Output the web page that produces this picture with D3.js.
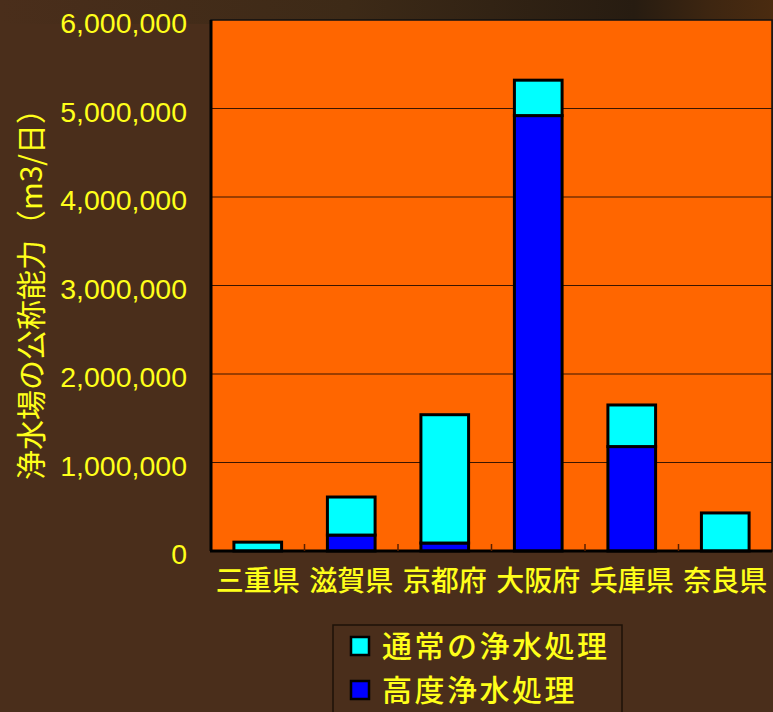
<!DOCTYPE html>
<html>
<head>
<meta charset="utf-8">
<script src="https://cdn.jsdelivr.net/npm/d3@7"></script>
<style>
  html, body { margin: 0; padding: 0; background: #4a2e1b; }
  svg { display: block; }
</style>
</head>
<body>
<div id="chart"></div>
<script>
// data
const prefectures = ["三重県", "滋賀県", "京都府", "大阪府", "兵庫県", "奈良県"];
const advancedTreatment = [0, 180000, 90000, 4920000, 1180000, 0];      // 高度浄水処理
const normalTreatment = [100000, 430000, 1450000, 400000, 470000, 430000]; // 通常の浄水処理
const yTicks = [0, 1000000, 2000000, 3000000, 4000000, 5000000, 6000000];
const seriesNames = ["通常の浄水処理", "高度浄水処理"];

const width = 773, height = 712;
const plot = { left: 211, top: 20, right: 772, bottom: 551 };
const yellow = "#ffff1a";
const jp = "'Noto Sans CJK JP', 'Noto Sans', sans-serif";

const svg = d3.select("#chart").append("svg")
  .attr("width", width)
  .attr("height", height);

// background
svg.append("rect").attr("width", width).attr("height", height).attr("fill", "#4a2e1b");
const defs = svg.append("defs");
const grad = defs.append("linearGradient").attr("id", "topShade").attr("x1", 0).attr("x2", 1);
grad.append("stop").attr("offset", "0%").attr("stop-color", "#4a2e1b");
grad.append("stop").attr("offset", "45%").attr("stop-color", "#3d2a17");
grad.append("stop").attr("offset", "82%").attr("stop-color", "#271c11");
grad.append("stop").attr("offset", "92%").attr("stop-color", "#3e2611");
grad.append("stop").attr("offset", "100%").attr("stop-color", "#4a2b10");
svg.append("rect").attr("x", 0).attr("y", 0).attr("width", width).attr("height", plot.top + 4)
  .attr("fill", "url(#topShade)");

const table = prefectures.map((p, i) => ({ name: p, advanced: advancedTreatment[i], normal: normalTreatment[i] }));
const stacked = d3.stack().keys(["advanced", "normal"])(table);
const colors = { advanced: "#0000ff", normal: "#00ffff" };

const x = d3.scaleBand().domain(prefectures).range([plot.left, plot.right]).paddingInner(0.49).paddingOuter(0.245);
const band = d3.scaleBand().domain(prefectures).range([plot.left, plot.right]);
const y = d3.scaleLinear().domain([0, 6000000]).range([plot.bottom, plot.top]);

// plot area
svg.append("rect")
  .attr("x", plot.left).attr("y", plot.top)
  .attr("width", plot.right - plot.left).attr("height", plot.bottom - plot.top)
  .attr("fill", "#ff6600");

// grid lines
svg.append("g")
  .selectAll("line")
  .data(yTicks.slice(1, -1))
  .join("line")
  .attr("x1", plot.left).attr("x2", plot.right)
  .attr("y1", d => y(d)).attr("y2", d => y(d))
  .attr("stroke", "#3a1500").attr("stroke-width", 1.2);

// bars
svg.append("g")
  .selectAll("g")
  .data(stacked)
  .join("g")
  .attr("fill", d => colors[d.key])
  .selectAll("rect")
  .data(d => d.filter(s => s[1] - s[0] > 0))
  .join("rect")
  .attr("x", d => x(d.data.name))
  .attr("y", d => y(d[1]))
  .attr("width", x.bandwidth())
  .attr("height", d => y(d[0]) - y(d[1]))
  .attr("stroke", "#000")
  .attr("stroke-width", 3);

// frame
svg.append("rect")
  .attr("x", plot.left).attr("y", plot.top)
  .attr("width", plot.right - plot.left).attr("height", plot.bottom - plot.top)
  .attr("fill", "none").attr("stroke", "#111").attr("stroke-width", 1.5);
svg.append("line")
  .attr("x1", plot.left - 1).attr("x2", plot.right)
  .attr("y1", plot.bottom).attr("y2", plot.bottom)
  .attr("stroke", "#000").attr("stroke-width", 3);
svg.append("line")
  .attr("x1", plot.left).attr("x2", plot.left)
  .attr("y1", plot.top).attr("y2", plot.bottom)
  .attr("stroke", "#000").attr("stroke-width", 3);

// category tick marks (inward)
svg.append("g")
  .selectAll("line")
  .data(prefectures.slice(1))
  .join("line")
  .attr("x1", d => band(d)).attr("x2", d => band(d))
  .attr("y1", plot.bottom).attr("y2", plot.bottom - 7)
  .attr("stroke", "#5a2000").attr("stroke-width", 1.5);

// y axis labels
const yAxis = svg.append("g")
  .attr("transform", `translate(${plot.left},0)`)
  .call(d3.axisLeft(y).tickValues(yTicks).tickFormat(d3.format(",")).tickSize(0).tickPadding(24));
yAxis.select(".domain").remove();
yAxis.selectAll("text")
  .attr("fill", yellow)
  .attr("dy", "0.45em")
  .style("font-family", "'Liberation Sans', Arial, sans-serif")
  .style("font-size", "28.5px");

// x axis labels
const xAxis = svg.append("g")
  .attr("transform", `translate(0,${plot.bottom})`)
  .call(d3.axisBottom(band).tickSize(0).tickPadding(26));
xAxis.select(".domain").remove();
xAxis.selectAll("text")
  .attr("fill", yellow)
  .attr("dy", "0.5em")
  .style("font-family", jp)
  .style("font-size", "28px")
  .style("font-weight", "500");

// y axis title
svg.append("text")
  .attr("transform", "translate(42,287) rotate(-90)")
  .attr("text-anchor", "middle")
  .attr("fill", yellow)
  .style("font-family", jp)
  .style("font-size", "30px")
  .text("浄水場の公称能力（m3/日）");

// legend
const legend = svg.append("g");
legend.append("rect")
  .attr("x", 333).attr("y", 625)
  .attr("width", 289).attr("height", 100)
  .attr("fill", "#4a2e1b")
  .attr("stroke", "#1e1208").attr("stroke-width", 1.5);
const legendRows = [
  { name: seriesNames[0], color: colors.normal },
  { name: seriesNames[1], color: colors.advanced }
];
const rowY = d3.scalePoint().domain(seriesNames).range([646, 690]);
legend.selectAll("rect.sw")
  .data(legendRows)
  .join("rect")
  .attr("class", "sw")
  .attr("x", 351).attr("y", d => rowY(d.name) - 9)
  .attr("width", 18).attr("height", 18)
  .attr("fill", d => d.color)
  .attr("stroke", "#000").attr("stroke-width", 2.5);
legend.selectAll("text")
  .data(legendRows)
  .join("text")
  .attr("x", 382).attr("y", d => rowY(d.name))
  .attr("dy", "0.36em")
  .attr("fill", yellow)
  .style("font-family", jp)
  .style("font-size", "30px")
  .style("letter-spacing", "2.5px")
  .style("font-weight", "500")
  .text(d => d.name);
</script>
</body>
</html>
